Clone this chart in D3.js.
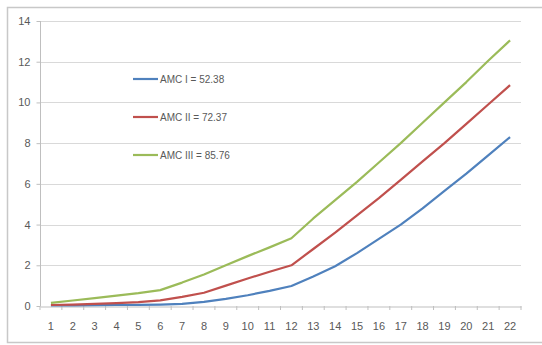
<!DOCTYPE html>
<html><head><meta charset="utf-8">
<script src="https://cdn.jsdelivr.net/npm/d3@7"></script>
<style>body{margin:0;background:#fff}svg{display:block}</style>
</head><body>
<script>
const categories = d3.range(1, 23).map(String);
const yTicks = [0, 2, 4, 6, 8, 10, 12, 14];
const seriesNames = ["AMC I = 52.38", "AMC II = 72.37", "AMC III = 85.76"];
const seriesColors = ["#4F81BD", "#C0504D", "#9BBB59"];
const amc1 = [0.03,0.03,0.04,0.05,0.06,0.07,0.1,0.2,0.35,0.53,0.74,0.98,1.45,1.95,2.6,3.3,4.0,4.8,5.65,6.5,7.4,8.3];
const amc2 = [0.05,0.07,0.1,0.14,0.19,0.28,0.45,0.65,1.0,1.35,1.68,2.0,2.8,3.6,4.45,5.3,6.2,7.1,8.0,8.95,9.9,10.85];
const amc3 = [0.15,0.27,0.39,0.51,0.63,0.78,1.15,1.55,2.0,2.45,2.88,3.33,4.3,5.2,6.1,7.05,8.0,9.0,10.0,11.0,12.05,13.05];
const series = [amc1, amc2, amc3];

const W = 542, H = 345;
const svg = d3.select("body").append("svg").attr("width", W).attr("height", H);

// outer frame
svg.append("path").attr("d", `M542,7.5 H7.5 V342.5 H542`).attr("fill", "none")
  .attr("stroke", "#c8c8c8").attr("stroke-width", 1.5);

const pL = 40, pR = 521, pT = 21, pB = 306;
const x = d3.scaleBand().domain(categories).range([pL, pR]);
const y = d3.scaleLinear().domain([0, 14]).range([pB, pT]);

// gridlines
svg.append("g").selectAll("line").data(yTicks.filter(d => d > 0)).join("line")
  .attr("x1", pL).attr("x2", pR)
  .attr("y1", d => Math.round(y(d)) + 0.5).attr("y2", d => Math.round(y(d)) + 0.5)
  .attr("stroke", "#d9d9d9").attr("stroke-width", 1.2);

// y axis
const yAxis = svg.append("g").attr("transform", `translate(${pL + 0.5},0)`)
  .call(d3.axisLeft(y).tickValues(yTicks).tickSize(4).tickPadding(6));
yAxis.select(".domain").attr("stroke", "#bfbfbf").attr("d", `M0,${pT}V${pB}`);
yAxis.selectAll(".tick line").attr("stroke", "#bfbfbf");
yAxis.selectAll("text").attr("fill", "#595959").style("font-family", "Liberation Sans, Arial, sans-serif").style("font-size", "11px");

// x axis
const xAxis = svg.append("g").attr("transform", `translate(0,${pB + 0.5})`)
  .call(d3.axisBottom(x).tickSize(0).tickPadding(16));
xAxis.select(".domain").attr("stroke", "#bfbfbf");
xAxis.selectAll("text").attr("fill", "#595959").style("font-family", "Liberation Sans, Arial, sans-serif").style("font-size", "11px");
// category boundary ticks
svg.append("g").selectAll("line").data(categories.concat(["end"])).join("line")
  .attr("x1", (d, i) => pL + i * x.step()).attr("x2", (d, i) => pL + i * x.step())
  .attr("y1", pB).attr("y2", pB + 4).attr("stroke", "#bfbfbf");

// lines
const line = d3.line().x((d, i) => x(categories[i]) + x.bandwidth() / 2).y(d => y(d));
series.forEach((s, k) => {
  svg.append("path").datum(s).attr("d", line).attr("fill", "none")
    .attr("stroke", seriesColors[k]).attr("stroke-width", 2.2).attr("stroke-linejoin", "round");
});

// legend
const legendY = [79, 117, 155];
seriesNames.forEach((n, k) => {
  svg.append("line").attr("x1", 133).attr("x2", 158).attr("y1", legendY[k]).attr("y2", legendY[k])
    .attr("stroke", seriesColors[k]).attr("stroke-width", 2.2);
  svg.append("text").attr("x", 160).attr("y", legendY[k]).attr("dy", "0.35em")
    .attr("fill", "#595959").style("font-family", "Liberation Sans, Arial, sans-serif")
    .style("font-size", "10px").text(n);
});
</script>
</body></html>
